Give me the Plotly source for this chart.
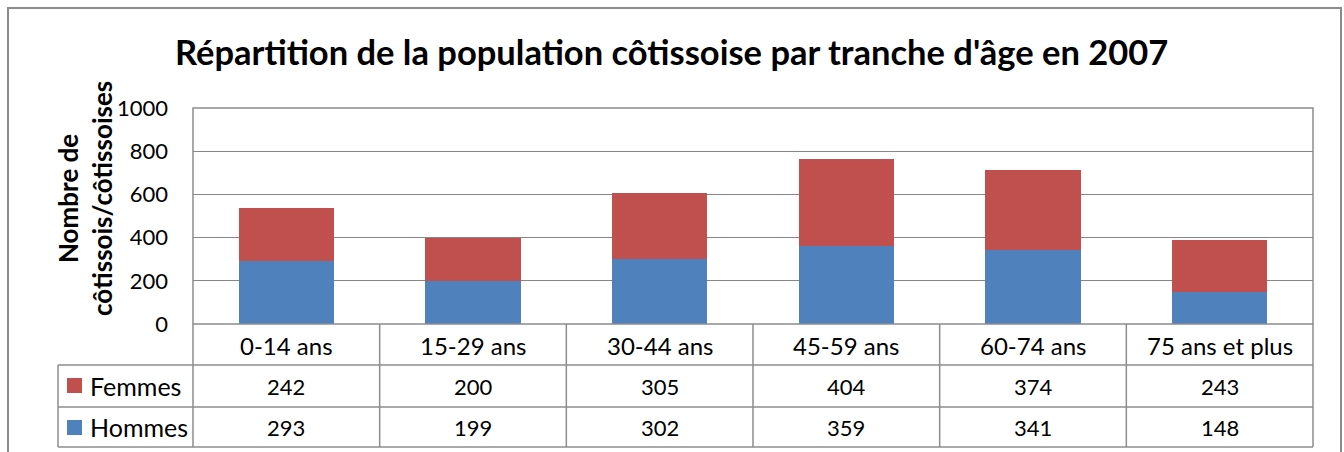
import plotly.graph_objects as go

categories = ["0-14 ans", "15-29 ans", "30-44 ans", "45-59 ans", "60-74 ans", "75 ans et plus"]
femmes = [242, 200, 305, 404, 374, 243]
hommes = [293, 199, 302, 359, 341, 148]
y_ticks = [0, 200, 400, 600, 800, 1000]
title_text = "Répartition de la population côtissoise par tranche d'âge en 2007"
y_title = "Nombre de<br>côtissois/côtissoises"

W, H = 1344, 452


def px(x):
    return x / W


def py(y):
    return 1 - y / H


BLUE = "#4F81BD"
RED = "#C0504D"
GRID = "#868686"
LINE = "#8C8C8C"
FONT = "Lato"
NSIZE = 22   # numbers
LSIZE = 24   # labels

fig = go.Figure()
fig.add_bar(x=categories, y=hommes, name="Hommes", marker_color=BLUE, width=0.51, marker_line_width=0)
fig.add_bar(x=categories, y=femmes, name="Femmes", marker_color=RED, width=0.51, marker_line_width=0)

fig.update_layout(
    barmode="stack", width=W, height=H, margin=dict(l=0, r=0, t=0, b=0, pad=0),
    paper_bgcolor="white", plot_bgcolor="white", showlegend=False,
    font=dict(family=FONT, color="black"),
)
fig.update_xaxes(domain=[px(193), px(1313)], range=[-0.5, 5.5], showticklabels=False,
                 showgrid=False, zeroline=False, showline=False, automargin=False)
fig.update_yaxes(domain=[py(324), py(108)], range=[0, 1000], tickvals=y_ticks,
                 showgrid=True, gridcolor=GRID, gridwidth=1, zeroline=False, showline=False,
                 tickfont=dict(size=NSIZE, family=FONT), ticklabelstandoff=24, automargin=False)

shapes = []
lw = 1.5
# outer chart border
shapes.append(dict(type="rect", xref="paper", yref="paper", x0=px(8), x1=px(1341), y0=py(470), y1=py(8),
                   line=dict(color=LINE, width=2), layer="below"))
# plot area border
shapes.append(dict(type="rect", xref="paper", yref="paper", x0=px(193), x1=px(1313), y0=py(324), y1=py(108),
                   line=dict(color=LINE, width=lw)))
# table horizontal lines
for yy, xs in [(365, 58), (407, 58), (447, 58)]:
    shapes.append(dict(type="line", xref="paper", yref="paper", x0=px(xs), x1=px(1313), y0=py(yy), y1=py(yy),
                       line=dict(color=LINE, width=lw)))
# table vertical lines
shapes.append(dict(type="line", xref="paper", yref="paper", x0=px(58), x1=px(58), y0=py(365), y1=py(447),
                   line=dict(color=LINE, width=lw)))
shapes.append(dict(type="line", xref="paper", yref="paper", x0=px(193), x1=px(193), y0=py(324), y1=py(447),
                   line=dict(color=LINE, width=lw)))
shapes.append(dict(type="line", xref="paper", yref="paper", x0=px(1313), x1=px(1313), y0=py(324), y1=py(447),
                   line=dict(color=LINE, width=lw)))
for i in range(len(categories) - 1):
    shapes.append(dict(type="line", xref="x", yref="paper", x0=i + 0.5, x1=i + 0.5, y0=py(324), y1=py(447),
                       line=dict(color=LINE, width=lw)))
# legend keys
shapes.append(dict(type="rect", xref="paper", yref="paper", x0=px(67), x1=px(82), y0=py(393), y1=py(378),
                   fillcolor=RED, line=dict(width=0)))
shapes.append(dict(type="rect", xref="paper", yref="paper", x0=px(67), x1=px(82), y0=py(435), y1=py(420),
                   fillcolor=BLUE, line=dict(width=0)))

ann = []
ann.append(dict(text=f"<b>{title_text}</b>", x=px(671), y=py(52), xref="paper", yref="paper",
                showarrow=False, font=dict(size=34.5, family=FONT), xanchor="center", yanchor="middle"))
ann.append(dict(text=f"<b>{y_title}</b>", x=px(85), y=py(199), xref="paper", yref="paper",
                showarrow=False, textangle=-90, font=dict(size=26, family=FONT),
                xanchor="center", yanchor="middle"))
for c, f, h in zip(categories, femmes, hommes):
    ann.append(dict(text=c, x=c, y=py(345), xref="x", yref="paper", showarrow=False,
                    font=dict(size=LSIZE), xanchor="center", yanchor="middle"))
    ann.append(dict(text=str(f), x=c, y=py(386), xref="x", yref="paper", showarrow=False,
                    font=dict(size=NSIZE), xanchor="center", yanchor="middle"))
    ann.append(dict(text=str(h), x=c, y=py(427), xref="x", yref="paper", showarrow=False,
                    font=dict(size=NSIZE), xanchor="center", yanchor="middle"))
ann.append(dict(text="Femmes", x=px(88), y=py(386), xref="paper", yref="paper", showarrow=False,
                font=dict(size=25), xanchor="left", yanchor="middle"))
ann.append(dict(text="Hommes", x=px(88), y=py(427), xref="paper", yref="paper", showarrow=False,
                font=dict(size=25), xanchor="left", yanchor="middle"))

fig.update_layout(shapes=shapes, annotations=ann)
fig.write_html("out.html", config={"displayModeBar": False},
               post_script="document.body.style.margin='0px';document.body.style.padding='0px';")
